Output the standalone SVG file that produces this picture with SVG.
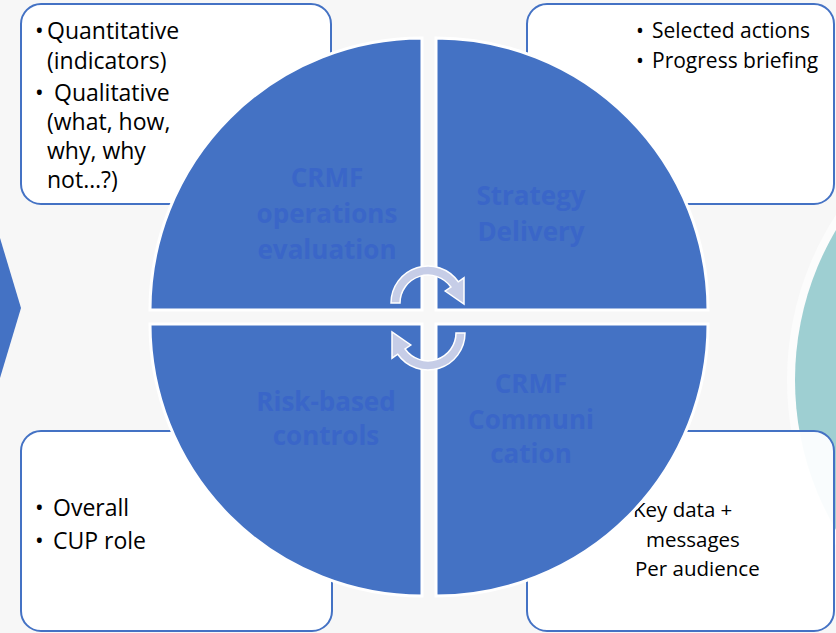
<svg xmlns="http://www.w3.org/2000/svg" width="836" height="633" viewBox="0 0 836 633">
<defs>
<style>
.box{fill:#ffffff;fill-opacity:0.94;stroke:#4472C4;stroke-width:2}
.quad{fill:#4472C4;stroke:#ffffff;stroke-width:3}
.t{font-family:"Open Sans","Noto Sans","DejaVu Sans",sans-serif;font-size:21px;fill:#000000}
.l{font-size:23px}
.s{font-size:20.5px}
.q{font-family:"Open Sans","Noto Sans","DejaVu Sans",sans-serif;font-size:26px;font-weight:bold;fill:#3A66C8;text-anchor:middle}
.arr{fill:#c6cde7;stroke:#ffffff;stroke-width:1.5}
</style>
</defs>
<rect x="0" y="0" width="836" height="633" fill="#f7f7f7"/>
<g id="teal-circle">
<circle cx="1090" cy="380" r="303" fill="#fcfcfc"/>
<circle cx="1090" cy="380" r="295" fill="#9ecfd2"/>
</g>
<g id="left-chevron">
<polygon points="0,238 21,308 0,378" fill="#4472C4"/>
</g>
<g id="box-top-left">
<rect class="box" x="21" y="4" width="310" height="200" rx="20"/>
<text class="t l" y="39"><tspan x="35">•</tspan><tspan x="47">Quantitative</tspan></text>
<text class="t l" x="47" y="69">(indicators)</text>
<text class="t l" y="101"><tspan x="35">• </tspan><tspan x="54">Qualitative</tspan></text>
<text class="t l" x="47" y="130">(what, how,</text>
<text class="t l" x="47" y="159">why, why</text>
<text class="t l" x="47" y="188">not…?)</text>
</g>
<g id="box-top-right">
<rect class="box" x="527" y="4" width="307" height="200" rx="20"/>
<text class="t" y="38"><tspan x="636">• </tspan><tspan x="652">Selected actions</tspan></text>
<text class="t" y="68"><tspan x="636">• </tspan><tspan x="652">Progress briefing</tspan></text>
</g>
<g id="box-bottom-left">
<rect class="box" x="21" y="431" width="311" height="200" rx="20"/>
<text class="t l" y="516"><tspan x="35">• </tspan><tspan x="53">Overall</tspan></text>
<text class="t l" y="549"><tspan x="35">• </tspan><tspan x="53">CUP role</tspan></text>
</g>
<g id="box-bottom-right">
<rect class="box" x="527" y="431" width="307" height="200" rx="20"/>
<text class="t s" x="633" y="517">Key data +</text>
<text class="t s" x="646" y="547">messages</text>
<text class="t s" x="635" y="576">Per audience</text>
</g>
<g id="quadrant-evaluation">
<path class="quad" d="M422,310 L150,310 A272,272 0 0 1 422,38 Z"/>
<text class="q" x="327" y="187">CRMF</text>
<text class="q" x="327" y="223">operations</text>
<text class="q" x="327" y="259">evaluation</text>
</g>
<g id="quadrant-strategy">
<path class="quad" d="M436,310 L436,38 A272,272 0 0 1 708,310 Z"/>
<text class="q" x="531" y="205">Strategy</text>
<text class="q" x="531" y="241">Delivery</text>
</g>
<g id="quadrant-controls">
<path class="quad" d="M422,324 L422,596 A272,272 0 0 1 150,324 Z"/>
<text class="q" x="326" y="411">Risk-based</text>
<text class="q" x="326" y="445">controls</text>
</g>
<g id="quadrant-communication">
<path class="quad" d="M436,324 L708,324 A272,272 0 0 1 436,596 Z"/>
<text class="q" x="531" y="393">CRMF</text>
<text class="q" x="531" y="429">Communi</text>
<text class="q" x="531" y="463">cation</text>
</g>
<g id="connectors">
<path class="arr" d="M391,303 A37,37 0 0 1 458.3,281.8 L464,277.8 L464,304 L445.2,291 L450.9,287 A28,28 0 0 0 400,303 Z"/>
<path class="arr" transform="rotate(180 428 318)" d="M391,303 A37,37 0 0 1 458.3,281.8 L464,277.8 L464,304 L445.2,291 L450.9,287 A28,28 0 0 0 400,303 Z"/>
</g>
</svg>
